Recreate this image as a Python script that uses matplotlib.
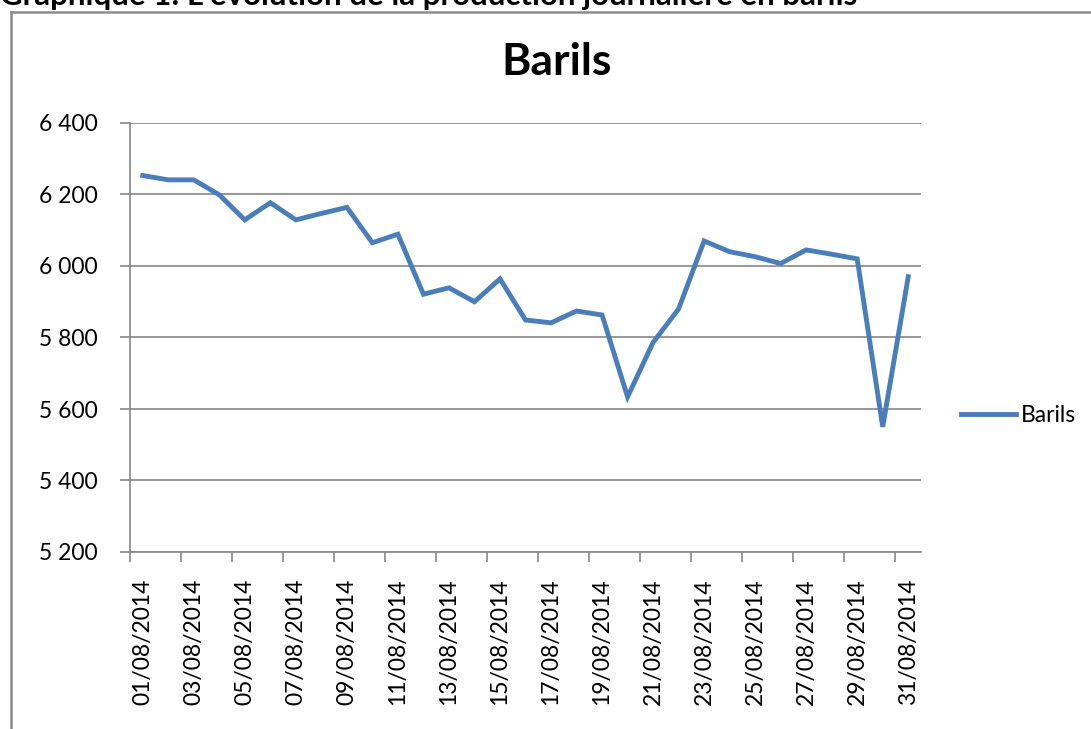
import matplotlib.pyplot as plt
from matplotlib.lines import Line2D

# Production journaliere (barils), aout 2014
dates = [f"{d:02d}/08/2014" for d in range(1, 32)]
barils = [6253, 6241, 6241, 6199, 6129, 6177, 6129, 6147, 6164, 6065,
          6089, 5921, 5939, 5900, 5964, 5849, 5841, 5874, 5863, 5634,
          5786, 5880, 6070, 6040, 6026, 6007, 6045, 6033, 6020, 5550,
          5970]
y_ticks = [5200, 5400, 5600, 5800, 6000, 6200, 6400]

plt.rcParams['font.family'] = ['Lato', 'DejaVu Sans']
FS = 16.5

fig = plt.figure(figsize=(10.91, 7.29), dpi=100)
ax = fig.add_axes([130 / 1091, 1 - 552 / 729, 791 / 1091, 429 / 729])

x = list(range(len(dates)))
line, = ax.plot(x, barils, color='#4A7EBB', lw=3.5, solid_joinstyle='miter',
                label='Barils')

ax.set_xlim(-0.5, len(dates) - 0.5)
ax.set_ylim(y_ticks[0], y_ticks[-1])
ax.set_yticks(y_ticks)
ax.set_yticklabels([f"{v:,}".replace(',', ' ') for v in y_ticks], fontsize=FS)
ax.yaxis.grid(True, color='#868686', lw=1.2)
ax.set_axisbelow(True)

# tick marks between categories, labels on every other category
ax.set_xticks([i - 0.5 for i in range(0, len(dates), 2)])
ax.set_xticklabels([])
ax.set_xticks(x[::2], minor=True)
ax.set_xticklabels(dates[::2], minor=True, rotation=90, fontsize=FS)
ax.tick_params(axis='x', which='major', length=7, color='#868686', width=1.2)
ax.tick_params(axis='x', which='minor', length=0, pad=19)
ax.tick_params(axis='y', length=7, color='#868686', width=1.2, pad=16)

for s in ['top', 'right']:
    ax.spines[s].set_visible(False)
for s in ['left', 'bottom']:
    ax.spines[s].set_color('#868686')
    ax.spines[s].set_linewidth(1.2)

fig.text(557 / 1091, 1 - 62 / 729, 'Barils', fontsize=32, fontweight='bold',
         ha='center', va='center')

fig.legend(handles=[line], loc='center left', frameon=False,
           bbox_to_anchor=(961 / 1091, 1 - 416 / 729), fontsize=FS,
           handlelength=2.4, handletextpad=0.2, borderpad=0, borderaxespad=0)

# header caption (cut off at the top of the image, as in the reference)
fig.text(0, 1 - 5 / 729, "Graphique 1: L'évolution de la production journalière en barils",
         fontsize=22.5, fontweight='bold', ha='left', va='baseline')

# outer chart frame
fig.add_artist(Line2D([11 / 1091, 11 / 1091], [0, 1 - 12 / 729],
                      transform=fig.transFigure, color='#8c8c8c', lw=1.8))
fig.add_artist(Line2D([11 / 1091, 1], [1 - 12 / 729, 1 - 12 / 729],
                      transform=fig.transFigure, color='#8c8c8c', lw=1.8))

fig.savefig('out.png', dpi=100)
